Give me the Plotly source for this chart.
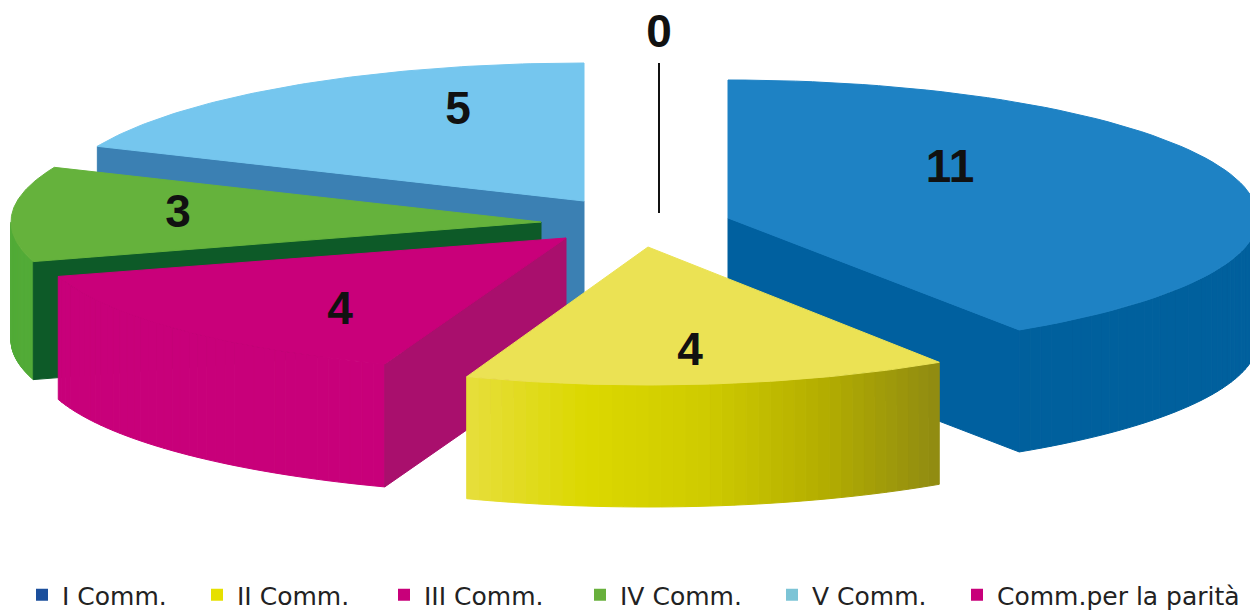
import math
import plotly.graph_objects as go

# ---- data ----
series_names = ["I Comm.", "II Comm.", "III Comm.", "IV Comm.", "V Comm.", "Comm.per la parità"]
series_values = [11, 4, 4, 3, 5, 0]

# ---- styling / layout of the projected pie ----
legend_colors = ["#1b4f9c", "#e6e000", "#c8007a", "#68b03c", "#7cc4d6", "#c8007a"]
top_colors = ["#1e82c4", "#ebe254", "#c9007a", "#65b23c", "#75c6ee", "#c9007a"]
cut_colors = ["#00609f", "#dcd800", "#a90f6d", "#0d5a28", "#3b80b3"]
wall_stops = [
    ["#00609d", "#00609d"],
    ["#e6de3c", "#dcd800", "#cfcb00", "#b4ae00", "#8f8a12"],
    ["#c8007a", "#c8007a"],
    ["#52ab38", "#52ab38"],
    ["#6fb8dc", "#6fb8dc"],
]
slice_apex = [(728, 218), (648, 247), (566, 238), (541, 222), (584, 201)]
slice_depth = [122, 122, 123, 118, 122]
ry_front = [134, 138, 134, 138, 138]
label_xy = [(950, 170), (690, 353), (340, 312), (178, 215), (458, 112), (659, 35)]
zero_line_xy = ((659, 63), (659, 213))
RX, RY_BACK = 530, 138
paint_order = [4, 3, 2, 0, 1]
legend_x = [22, 197, 384, 580, 772, 957]
legend_y = 595


def lerp_color(stops, t):
    p = t * (len(stops) - 1)
    i = min(int(p), len(stops) - 2)
    f = p - i
    a = [int(stops[i][k:k + 2], 16) for k in (1, 3, 5)]
    b = [int(stops[i + 1][k:k + 2], 16) for k in (1, 3, 5)]
    return "#%02x%02x%02x" % tuple(round(a[k] + (b[k] - a[k]) * f) for k in range(3))


def arc_point(idx, deg):
    r = math.radians(deg)
    apex = slice_apex[idx]
    c = math.cos(r)
    ry = RY_BACK if c > 0 else ry_front[idx]
    return apex[0] + RX * math.sin(r), apex[1] - ry * c


def poly(fig, xs, ys, color):
    fig.add_trace(go.Scatter(x=xs + xs[:1], y=ys + ys[:1], mode="lines", fill="toself",
                             fillcolor=color, line=dict(color=color, width=1),
                             hoverinfo="skip", showlegend=False))


def cut_visible(idx, edge_deg, mid_deg):
    """A radial cut face shows when the slice's top lies above that edge."""
    apex = slice_apex[idx]
    ex, ey = arc_point(idx, edge_deg)
    mx, my = arc_point(idx, mid_deg)
    dx, dy = ex - apex[0], ey - apex[1]
    if abs(dx) < 1e-6:
        return False
    return my < apex[1] + dy * (mx - apex[0]) / dx


total = sum(series_values)
starts = [sum(series_values[:i]) / total * 360 for i in range(len(series_values))]
ends = [sum(series_values[:i + 1]) / total * 360 for i in range(len(series_values))]

fig = go.Figure()

for idx in paint_order:
    a0, a1 = starts[idx], ends[idx]
    apex = slice_apex[idx]
    depth = slice_depth[idx]
    # outer wall: front-facing part of the arc only, as shaded strips
    w0, w1 = max(a0, 90), min(a1, 270)
    if w1 > w0:
        strips = 40
        xs_all = [arc_point(idx, w0 + (w1 - w0) * i / strips)[0] for i in range(strips + 1)]
        lo, hi = min(xs_all), max(xs_all)
        for i in range(strips):
            t0 = w0 + (w1 - w0) * i / strips
            t1 = w0 + (w1 - w0) * (i + 1) / strips
            x0, y0 = arc_point(idx, t0)
            x1, y1 = arc_point(idx, t1)
            shade = ((x0 + x1) / 2 - lo) / (hi - lo)
            poly(fig, [x0, x1, x1, x0], [y0, y1, y1 + depth, y0 + depth], lerp_color(wall_stops[idx], shade))
    # radial cut faces that face the viewer
    mid = (a0 + a1) / 2
    for ang in (a0, a1):
        if cut_visible(idx, ang, mid):
            px, py = arc_point(idx, ang)
            poly(fig, [apex[0], px, px, apex[0]], [apex[1], py, py + depth, apex[1] + depth], cut_colors[idx])
    # top face
    n = 80
    pts = [arc_point(idx, a0 + (a1 - a0) * i / n) for i in range(n + 1)]
    poly(fig, [apex[0]] + [p[0] for p in pts], [apex[1]] + [p[1] for p in pts], top_colors[idx])

# zero-valued slice: leader line only
fig.add_trace(go.Scatter(x=[zero_line_xy[0][0], zero_line_xy[1][0]], y=[zero_line_xy[0][1], zero_line_xy[1][1]],
                         mode="lines", line=dict(color="#111111", width=2), hoverinfo="skip", showlegend=False))

# value labels
fig.add_trace(go.Scatter(x=[p[0] for p in label_xy], y=[p[1] for p in label_xy], mode="text",
                         text=[str(v) for v in series_values], textposition="middle center",
                         textfont=dict(family="Liberation Sans", size=46, color="#111111", weight="bold"),
                         hoverinfo="skip", showlegend=False))

# legend entries, each in its own legend box to keep the original spacing
layout_legends = {}
for i, (name, col) in enumerate(zip(series_names, legend_colors)):
    key = "legend" if i == 0 else f"legend{i + 1}"
    fig.add_trace(go.Scatter(x=[None], y=[None], mode="markers", name=name, legend=key,
                             marker=dict(symbol="square", size=12, color=col), showlegend=True))
    layout_legends[key] = dict(x=legend_x[i] / 1250, xanchor="left", y=1 - legend_y / 612, yanchor="middle",
                               orientation="h", itemwidth=30, bgcolor="rgba(0,0,0,0)",
                               font=dict(family="DejaVu Sans", size=25, color="#222222"),
                               tracegroupgap=0)

fig.update_layout(
    width=1250, height=612, margin=dict(l=0, r=0, t=0, b=0, autoexpand=False),
    paper_bgcolor="white", plot_bgcolor="white",
    xaxis=dict(range=[0, 1250], visible=False, fixedrange=True),
    yaxis=dict(range=[612, 0], visible=False, fixedrange=True),
    **layout_legends,
)
fig.write_html("out.html", config={"displayModeBar": False},
               post_script="document.body.style.margin='0';document.documentElement.style.overflow='hidden';")
